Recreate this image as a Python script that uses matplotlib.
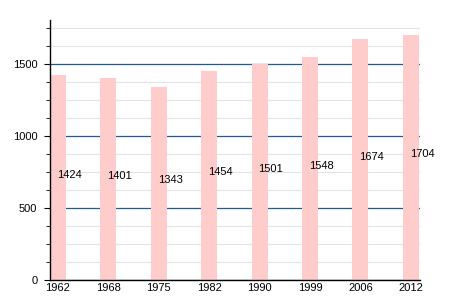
import numpy as np
import matplotlib.pyplot as plt
from matplotlib.ticker import MultipleLocator

plt.rcParams['font.family'] = ['Liberation Sans', 'DejaVu Sans']

years = ['1962', '1968', '1975', '1982', '1990', '1999', '2006', '2012']
population = [1424, 1401, 1343, 1454, 1501, 1548, 1674, 1704]

fig = plt.figure(figsize=(4.5, 3), dpi=100)
ax = fig.add_axes([0.111, 0.067, 0.822, 0.866])

x = np.arange(len(years))
ax.bar(x, population, width=0.32, color='#ffcccc', zorder=2)

for xi, v in zip(x, population):
    ax.text(xi - 0.02, v / 2 + 20, str(v), ha='left', va='center',
            fontsize=8, color='black', zorder=3)

ax.set_xlim(-0.16, 7.18)
ax.set_ylim(0, 1805)
ax.set_xticks(x)
ax.set_xticklabels(years)
ax.yaxis.set_major_locator(MultipleLocator(500))
ax.yaxis.set_minor_locator(MultipleLocator(125))

ax.grid(axis='y', which='minor', color='#e3e3e3', linewidth=0.8, zorder=0)
ax.grid(axis='y', which='major', color='#1f5a96', linewidth=0.9, zorder=1)

for s in ['top', 'right']:
    ax.spines[s].set_visible(False)
ax.spines['left'].set_linewidth(1)
ax.spines['bottom'].set_linewidth(1)
ax.tick_params(axis='x', length=0, labelsize=8, pad=2)
ax.tick_params(axis='y', which='major', length=4, labelsize=8, pad=5)
ax.tick_params(axis='y', which='minor', length=3)

fig.savefig('out.png', dpi=100)
